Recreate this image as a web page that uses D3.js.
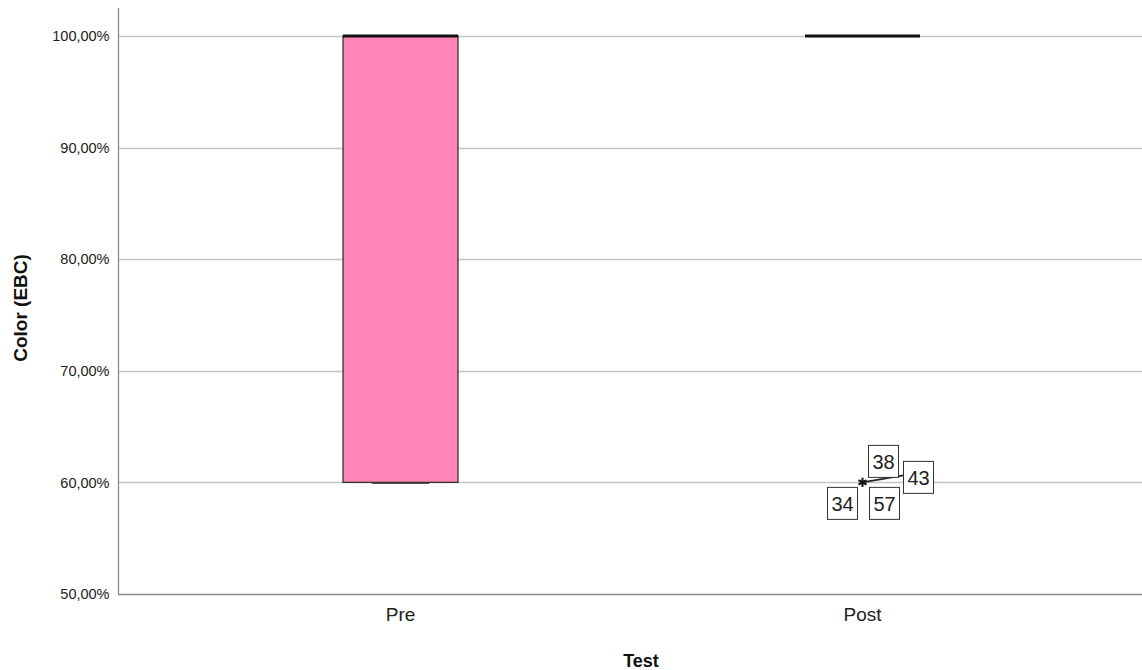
<!DOCTYPE html>
<html>
<head>
<meta charset="utf-8">
<script src="https://cdn.jsdelivr.net/npm/d3@7"></script>
<style>
  html, body { margin: 0; padding: 0; background: #fff; }
  svg { display: block; font-family: "Liberation Sans", Arial, sans-serif; }
</style>
</head>
<body>
<svg id="chart" width="1142" height="670"></svg>
<script>
// Box plot summary per test group (values in %)
const categories = ["Pre", "Post"];
const q1Values = [60, 100];
const medianValues = [100, 100];
const q3Values = [100, 100];
const whiskerLowValues = [60, 100];
const whiskerHighValues = [100, 100];
// Outlier cases (all in the Post group, at 60%)
const outlierCases = ["38", "43", "34", "57"];
const outlierValues = [60, 60, 60, 60];
const yTicks = [50, 60, 70, 80, 90, 100];

const svg = d3.select("#chart");
const font = "'Liberation Sans', Arial, sans-serif";

const y = d3.scaleLinear().domain([50, 102.5]).range([594, 8]);
const x = d3.scaleBand().domain(categories).range([169.5, 1093.5]).padding(0);

// Gridlines
svg.append("g").selectAll("line").data(yTicks.filter(d => d > 50)).join("line")
  .attr("x1", 119).attr("x2", 1142)
  .attr("y1", d => Math.round(y(d)) + 0.5).attr("y2", d => Math.round(y(d)) + 0.5)
  .attr("stroke", "#c4c4c4").attr("stroke-width", 1.3);

// Y axis
const yAxis = d3.axisLeft(y).tickValues(yTicks).tickSize(0).tickPadding(9)
  .tickFormat(d => d3.format(".2f")(d).replace(".", ",") + "%");
const gy = svg.append("g").attr("transform", "translate(118.5,0)").call(yAxis);
gy.select(".domain").remove();
gy.selectAll("text").attr("font-size", 14.5).attr("fill", "#222").attr("font-family", font);

// Axis lines
svg.append("line").attr("x1", 118.5).attr("x2", 118.5).attr("y1", 8).attr("y2", 594)
  .attr("stroke", "#8a8a8a").attr("stroke-width", 1.3);
svg.append("line").attr("x1", 118).attr("x2", 1142).attr("y1", 594.5).attr("y2", 594.5)
  .attr("stroke", "#8a8a8a").attr("stroke-width", 1.3);

// X axis labels
const gx = svg.append("g").attr("transform", "translate(0,594)")
  .call(d3.axisBottom(x).tickSize(0).tickPadding(14));
gx.select(".domain").remove();
gx.selectAll("text").attr("font-size", 19).attr("fill", "#222").attr("font-family", font);

const boxW = 115;
const data = categories.map((c, i) => ({
  c, q1: q1Values[i], med: medianValues[i], q3: q3Values[i],
  lo: whiskerLowValues[i], hi: whiskerHighValues[i]
}));

const g = svg.append("g");
data.forEach(d => {
  const cx = x(d.c) + x.bandwidth() / 2;
  if (d.q3 > d.q1) {
    // whisker cap at the lower extreme
    g.append("line").attr("x1", cx - boxW / 4).attr("x2", cx + boxW / 4)
      .attr("y1", y(d.lo) + 1).attr("y2", y(d.lo) + 1)
      .attr("stroke", "#555").attr("stroke-width", 1.2);
    g.append("rect").attr("x", cx - boxW / 2).attr("y", y(d.q3))
      .attr("width", boxW).attr("height", y(d.q1) - y(d.q3))
      .attr("fill", "#ff85b7").attr("stroke", "#333").attr("stroke-width", 1.3);
  }
  // median
  g.append("line").attr("x1", cx - boxW / 2).attr("x2", cx + boxW / 2)
    .attr("y1", y(d.med)).attr("y2", y(d.med))
    .attr("stroke", "#111").attr("stroke-width", 3);
});

// Outliers in Post group
const px = x("Post") + x.bandwidth() / 2;
const py = y(outlierValues[0]);
const labelOffsets = [[21, -21], [56, -5], [-20, 21], [22, 21]];
// leader line to case 43
g.append("line").attr("x1", px).attr("y1", py)
  .attr("x2", px + labelOffsets[1][0] - 15).attr("y2", y(outlierValues[1]) + labelOffsets[1][1] - 2)
  .attr("stroke", "#222").attr("stroke-width", 1.6);
outlierCases.forEach((lab, i) => {
  const [dx, dy] = labelOffsets[i];
  const lx = px + dx, ly = y(outlierValues[i]) + dy;
  g.append("rect").attr("x", lx - 15).attr("y", ly - 16).attr("width", 30).attr("height", 32)
    .attr("fill", "#fff").attr("stroke", "#333").attr("stroke-width", 1);
  g.append("text").attr("x", lx).attr("y", ly + 7.5).attr("text-anchor", "middle")
    .attr("font-size", 20).attr("fill", "#222").text(lab);
});
g.append("path").attr("d", d3.symbol(d3.symbolAsterisk, 60)())
  .attr("transform", `translate(${px},${py})`).attr("stroke", "#111").attr("stroke-width", 2);

// Axis titles
svg.append("text").attr("x", 641).attr("y", 667).attr("text-anchor", "middle")
  .attr("font-size", 18).attr("font-weight", "bold").attr("fill", "#111").text("Test");
svg.append("text").attr("transform", "translate(27,308) rotate(-90)").attr("text-anchor", "middle")
  .attr("font-size", 19).attr("font-weight", "bold").attr("fill", "#111").text("Color (EBC)");
</script>
</body>
</html>
